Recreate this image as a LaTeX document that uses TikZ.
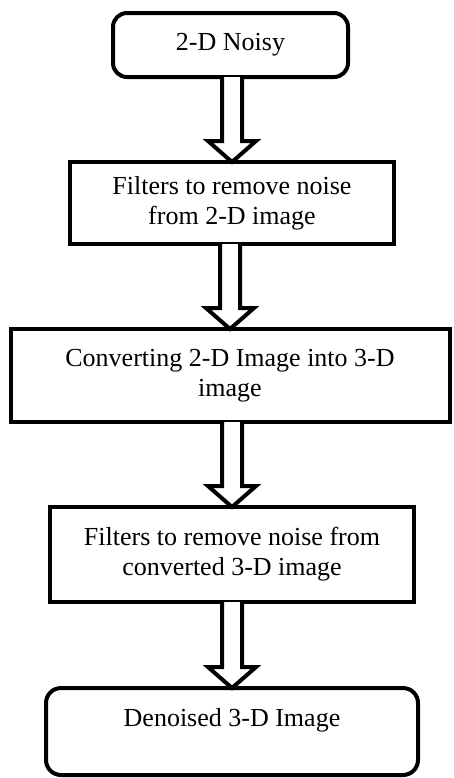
\documentclass[tikz,border=0pt]{standalone}
\usepackage{fontspec}
\setmainfont{Liberation Serif}
\usetikzlibrary{calc}
\tikzset{
  box/.style={draw=black, line width=2pt, fill=white, align=center, inner sep=2pt, outer sep=0pt,
    font=\fontsize{13pt}{15pt}\selectfont},
  roundbox/.style={box, rounded corners=7pt},
  blk/.style={draw=black, line width=2pt, fill=white, miter limit=10}
}
\newcommand\blockarrow[2]{%
  \draw[blk] ($(#2.north |- #1.south)+(-10,0)$) -- ($(#2.north)+(-10,-21)$) -- ++(-14,0)
    -- (#2.north) -- ($(#2.north)+(24,-21)$) -- ++(-14,0) -- ($(#2.north |- #1.south)+(10,0)$);%
}
\begin{document}
\begin{tikzpicture}[x=0.5pt,y=-0.5pt]
\useasboundingbox (0,0) rectangle (454,778);
\node[roundbox, minimum width=117.5pt, minimum height=32pt] (b1) at (230.5,45) {2-D Noisy};
\node[box, minimum width=162pt, minimum height=41pt] (b2) at (232,203) {Filters to remove noise\\from 2-D image};
\node[box, minimum width=219.5pt, minimum height=46.5pt] (b3) at (230,375.5) {Converting 2-D Image into 3-D\\image};
\node[box, minimum width=182pt, minimum height=47.5pt] (b4) at (232,554.5) {Filters to remove noise from\\converted 3-D image};
\node[roundbox, rounded corners=7.5pt, minimum width=186pt, minimum height=43.5pt, text height=9pt, text depth=14pt] (b5) at (232,731.5) {Denoised 3-D Image};
\blockarrow{b1}{b2}
\blockarrow{b2}{b3}
\blockarrow{b3}{b4}
\blockarrow{b4}{b5}
\end{tikzpicture}
\end{document}
